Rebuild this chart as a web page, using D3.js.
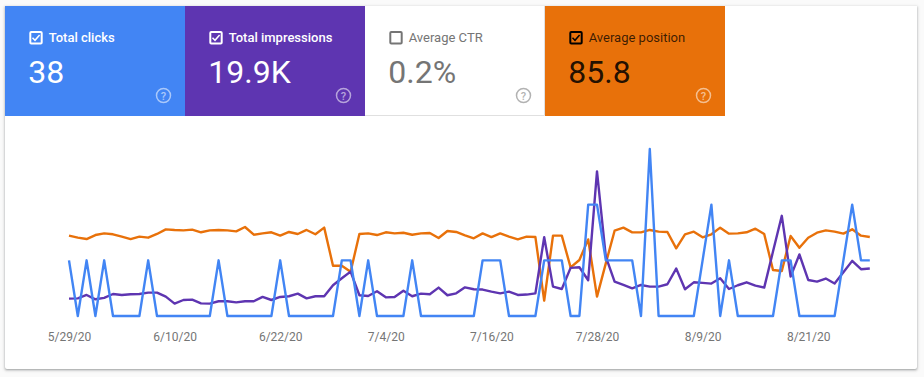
<!DOCTYPE html>
<html>
<head>
<meta charset="utf-8">
<script src="https://cdn.jsdelivr.net/npm/d3@7"></script>
<style>
  html, body { margin: 0; padding: 0; background: #fafafa; }
  #panel { position: absolute; left: 5px; top: 6px; width: 912px; height: 363px; background: #fff; border-radius: 0 0 2px 2px;
           box-shadow: 0 1px 2px rgba(60,64,67,.35), 0 1px 3px 1px rgba(60,64,67,.15); }
  svg { position: absolute; left: 0; top: 0; }
  text { font-family: Roboto, sans-serif; }
</style>
</head>
<body>
<div id="panel"></div>
<div id="chart"></div>
<script>
const startDate = new Date(2020, 4, 29);

const cardLabels = ["Total clicks", "Total impressions", "Average CTR", "Average position"];
const cardValues = ["38", "19.9K", "0.2%", "85.8"];
const cardColors = ["#4285f4", "#5e35b1", "#ffffff", "#e8710a"];
const cardInk = ["#ffffff", "#ffffff", "#757575", "#000000"];
const cardChecked = [true, true, false, true];

const tickLabels = ["5/29/20", "6/10/20", "6/22/20", "7/4/20", "7/16/20", "7/28/20", "8/9/20", "8/21/20"];

const clicks = [1,0,1,0,1,0,0,0,0,1, 0,0,0,0,0,0,0,1,0,0, 0,0,0,0,1,0,0,0,0,0,
  0,1,1,0,1,0,0,0,0,1, 0,0,0,0,0,0,0,1,1,1, 0,0,0,0,1,1,1,0,0,2, 2,1,1,1,1,0,3,0,0,0,
  0,0,1,2,0,1,0,0,0,0, 0,1,1,0,0,0,0,0,1,2, 1,1];

const impressions = [125,127,151,120,130,158,151,156,158,168, 168,139,89,115,118,91,89,106,106,98,
  106,106,137,115,137,142,161,127,142,142, 221,271,319,149,144,178,134,137,182,142,
  161,156,204,149,163,206,192,190,175,163, 175,151,154,163,566,211,194,346,350,257,
  1039,427,247,223,199,223,211,211,228,341, 192,242,238,233,271,194,221,242,218,204,
  463,720,283,442,259,247,269,233,314,396, 336,341];

const position = [82.0,83.9,85.2,81.4,79.8,80.7,82.9,85.2,82.9,83.9, 80.4,76.0,76.6,77.0,76.3,78.8,77.0,76.6,77.0,77.9,
  73.8,81.1,79.8,78.8,82.0,78.5,80.4,76.6,80.7,74.4, 110.4,110.4,116.1,80.4,79.8,81.4,78.8,79.8,79.2,81.1,
  79.8,79.5,84.2,77.6,78.5,81.7,84.5,79.8,83.3,79.8, 82.9,85.5,82.9,83.3,143.5,82.0,82.0,112.0,105.0,85.5,
  139.7,108.2,77.3,74.4,78.9,78.9,76.6,78.2,78.5,94.0, 80.7,78.2,83.6,80.7,74.4,80.1,79.8,78.8,75.4,80.4,
  114.5,115.4,82.3,93.4,83.9,79.2,77.0,78.2,80.1,76.0, 82.0,83.3];

const width = 924, height = 377;
const cardW = 180, cardH = 110, cardLeft = 5, cardTop = 6;
const day = i => d3.timeDay.offset(startDate, i);

const svg = d3.select("#chart").append("svg")
  .attr("width", width)
  .attr("height", height);

// Cards
const cards = svg.selectAll("g.card")
  .data(cardLabels)
  .join("g")
  .attr("class", "card")
  .attr("transform", (d, i) => `translate(${cardLeft + i * cardW},${cardTop})`);

cards.append("rect")
  .attr("width", cardW)
  .attr("height", cardH)
  .attr("fill", (d, i) => cardColors[i]);

// thin rule under and right of the unselected card
cards.filter((d, i) => i === 2).append("path")
  .attr("d", `M0,${cardH - 0.5}H${cardW - 0.5}V0`)
  .attr("fill", "none")
  .attr("stroke", "#e0e0e0");

cards.append("rect")
  .attr("x", 25.3)
  .attr("y", 26)
  .attr("width", 11.4)
  .attr("height", 11.4)
  .attr("rx", 1)
  .attr("fill", "none")
  .attr("stroke", (d, i) => cardInk[i])
  .attr("stroke-width", 2);

cards.filter((d, i) => cardChecked[i]).append("path")
  .attr("d", "M27.5,31.8L30,34.3L34.6,29")
  .attr("fill", "none")
  .attr("stroke", (d) => cardInk[cardLabels.indexOf(d)])
  .attr("stroke-width", 1.5);

cards.append("text")
  .attr("x", 43.7)
  .attr("y", 36)
  .attr("font-size", 13)
  .attr("font-weight", (d, i) => i < 2 ? 500 : 400)
  .attr("fill", (d, i) => cardInk[i])
  .attr("fill-opacity", (d, i) => i === 3 ? 0.75 : 1)
  .text(d => d);

cards.append("text")
  .attr("x", 23.3)
  .attr("y", 77)
  .attr("font-size", 32)
  .attr("fill", (d, i) => cardInk[i])
  .attr("fill-opacity", (d, i) => i === 3 ? 0.87 : 1)
  .text((d, i) => cardValues[i]);

// Help icons
const help = cards.append("g")
  .attr("transform", "translate(158.5,89.5)")
  .attr("opacity", 0.55);

help.append("circle")
  .attr("r", 7)
  .attr("fill", "none")
  .attr("stroke", (d, i) => i === 2 ? "#757575" : "#ffffff")
  .attr("stroke-width", 1.5);

help.append("text")
  .attr("y", 4)
  .attr("text-anchor", "middle")
  .attr("font-size", 11)
  .attr("font-weight", 500)
  .attr("fill", (d, i) => i === 2 ? "#757575" : "#ffffff")
  .text("?");

// Scales
const x = d3.scaleTime()
  .domain([startDate, day(clicks.length - 1)])
  .range([69, 869.8]);

const yClicks = d3.scaleLinear().domain([0, 3]).range([316, 149]);
const yImpressions = d3.scaleLinear().domain([0, 1200]).range([316, 149]);
const yPosition = d3.scaleLinear().domain([0, 158]).range([149, 316]);

// Lines
const series = [
  { values: position, y: yPosition, color: "#e8710a" },
  { values: impressions, y: yImpressions, color: "#5e35b1" },
  { values: clicks, y: yClicks, color: "#4285f4" }
];

series.forEach(s => {
  const line = d3.line()
    .x((d, i) => x(day(i)))
    .y(d => s.y(d));

  svg.append("path")
    .datum(s.values)
    .attr("fill", "none")
    .attr("stroke", s.color)
    .attr("stroke-width", 2.4)
    .attr("stroke-linejoin", "round")
    .attr("d", line);
});

// Axis
const axis = svg.append("g")
  .attr("transform", "translate(0,328)")
  .call(d3.axisBottom(x)
    .tickValues(tickLabels.map((d, i) => day(i * 12)))
    .tickFormat((d, i) => tickLabels[i])
    .tickSize(0)
    .tickPadding(0));

axis.select(".domain").remove();
axis.selectAll("text")
  .attr("font-family", "Roboto, sans-serif")
  .attr("font-size", 12)
  .attr("fill", "#757575")
  .attr("dy", "1.1em");
</script>
</body>
</html>
